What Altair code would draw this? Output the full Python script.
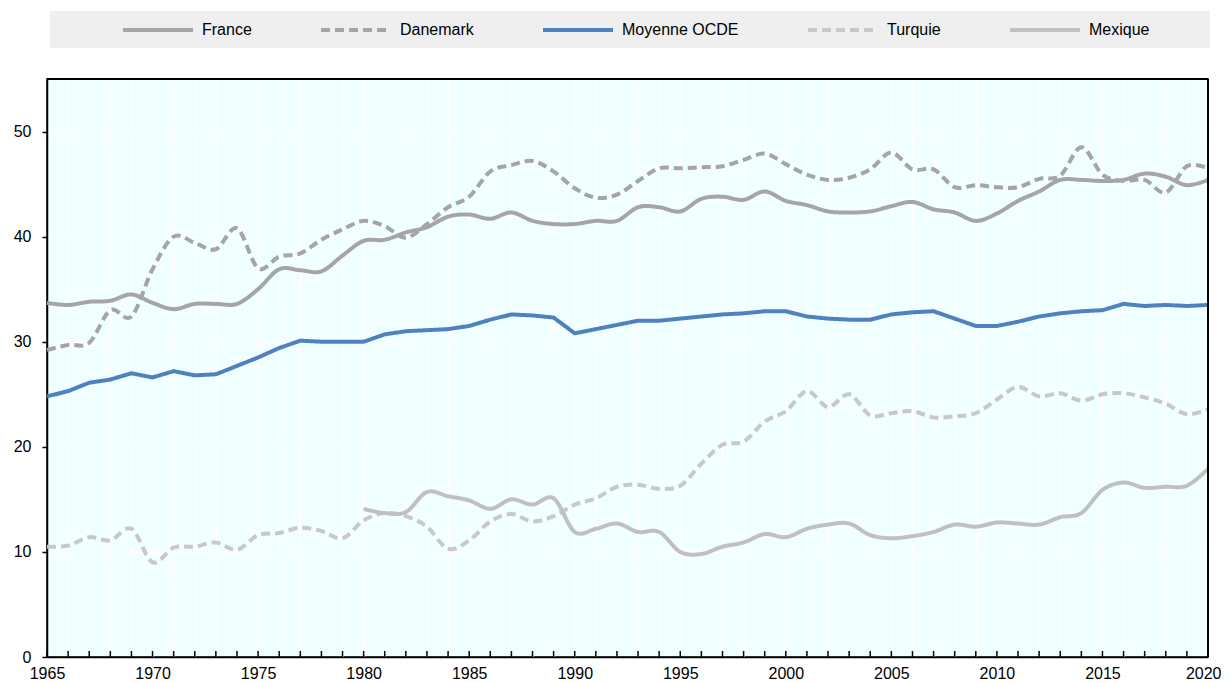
import altair as alt
import pandas as pd

years = list(range(1965, 2021))

france = [33.7, 33.5, 33.8, 33.9, 34.5, 33.7, 33.1, 33.6, 33.6, 33.6,
          35.0, 36.9, 36.8, 36.7, 38.2, 39.6, 39.7, 40.4, 40.9, 41.9,
          42.1, 41.7, 42.3, 41.5, 41.2, 41.2, 41.5, 41.5, 42.8, 42.8,
          42.4, 43.6, 43.8, 43.5, 44.3, 43.4, 43.0, 42.4, 42.3, 42.4,
          42.9, 43.3, 42.6, 42.3, 41.5, 42.2, 43.4, 44.3, 45.4, 45.4,
          45.3, 45.4, 46.0, 45.7, 44.9, 45.4]

danemark = [29.2, 29.7, 29.9, 33.0, 32.4, 36.9, 40.0, 39.4, 38.8, 40.8,
            37.0, 38.1, 38.4, 39.7, 40.7, 41.5, 41.0, 39.9, 41.2, 42.8,
            43.8, 46.2, 46.8, 47.2, 46.2, 44.6, 43.7, 44.0, 45.3, 46.5,
            46.5, 46.6, 46.7, 47.3, 47.9, 46.9, 45.9, 45.4, 45.6, 46.4,
            48.0, 46.4, 46.4, 44.7, 44.9, 44.7, 44.7, 45.5, 45.8, 48.5,
            45.9, 45.3, 45.4, 44.2, 46.7, 46.5]

ocde = [24.8, 25.3, 26.1, 26.4, 27.0, 26.6, 27.2, 26.8, 26.9, 27.7,
        28.5, 29.4, 30.1, 30.0, 30.0, 30.0, 30.7, 31.0, 31.1, 31.2,
        31.5, 32.1, 32.6, 32.5, 32.3, 30.8, 31.2, 31.6, 32.0, 32.0,
        32.2, 32.4, 32.6, 32.7, 32.9, 32.9, 32.4, 32.2, 32.1, 32.1,
        32.6, 32.8, 32.9, 32.2, 31.5, 31.5, 31.9, 32.4, 32.7, 32.9,
        33.0, 33.6, 33.4, 33.5, 33.4, 33.5]

turquie = [10.5, 10.6, 11.4, 11.1, 12.2, 9.0, 10.4, 10.5, 10.9, 10.2,
           11.6, 11.8, 12.3, 12.0, 11.3, 13.0, 13.7, 13.4, 12.4, 10.3,
           11.1, 12.9, 13.6, 12.9, 13.4, 14.5, 15.1, 16.2, 16.4, 16.0,
           16.3, 18.4, 20.2, 20.5, 22.4, 23.4, 25.3, 23.8, 25.0, 23.0,
           23.2, 23.4, 22.8, 22.9, 23.2, 24.5, 25.7, 24.8, 25.1, 24.4,
           25.0, 25.1, 24.7, 24.1, 23.1, 23.6]

mexique = [None] * 15 + [
           14.1, 13.7, 13.8, 15.7, 15.3,
           14.9, 14.1, 15.0, 14.5, 15.1, 11.9, 12.2, 12.7, 11.9, 11.9,
           10.0, 9.8, 10.5, 10.9, 11.7, 11.4, 12.2, 12.6, 12.7, 11.6,
           11.3, 11.5, 11.9, 12.6, 12.4, 12.8, 12.7, 12.6, 13.3, 13.7,
           15.9, 16.6, 16.1, 16.2, 16.3, 17.9]

series_names = ["France", "Danemark", "Moyenne OCDE", "Turquie", "Mexique"]
series_values = [france, danemark, ocde, turquie, mexique]
series_colors = ["#A5A5A5", "#A5A5A5", "#4F81BD", "#C8C8C8", "#C0C0C0"]
series_dashes = [[1, 0], [9, 5], [1, 0], [9, 5], [1, 0]]
y_ticks = [0, 10, 20, 30, 40, 50]
x_label_years = [1965, 1970, 1975, 1980, 1985, 1990, 1995, 2000, 2005, 2010, 2015, 2020]

rows = []
for name, vals in zip(series_names, series_values):
    for yr, v in zip(years, vals):
        rows.append({"annee": yr, "pays": name, "valeur": v})
df = pd.DataFrame(rows)

FONT = "Liberation Sans, Arial, sans-serif"
FS = 16
W, H = 1161, 578

x_scale = alt.Scale(domain=[1965, 2020], nice=False, zero=False)
y_scale = alt.Scale(domain=[0, 55], nice=False)

# grid-only x axis (every year), labels on a second axis
x_grid_axis = alt.Axis(orient="bottom", values=years, labels=False, ticks=False, grid=True,
                       gridColor="white", gridWidth=1, domain=False)
x_label_axis = alt.Axis(orient="bottom", values=x_label_years, format="d", labelOverlap=False,
                        ticks=False, grid=False,
                        domainColor="black", domainWidth=1.5,
                        labelFont=FONT, labelFontSize=FS, labelColor="black",
                        labelPadding=8, labelFlush=False,
                        labelAlign={"condition": {"test": "datum.value == 2020", "value": "right"},
                                    "value": "center"},
                        labelOffset={"condition": {"test": "datum.value == 2020", "value": 13},
                                     "value": 0})
y_axis = alt.Axis(values=y_ticks, grid=True, gridColor="white", gridWidth=1.2,
                  domainColor="black", domainWidth=1.5,
                  tickColor="black", tickSize=5, tickWidth=1.5,
                  labelFont=FONT, labelFontSize=FS, labelColor="black",
                  labelPadding=11)

color_scale = alt.Scale(domain=series_names, range=series_colors)
dash_scale = alt.Scale(domain=series_names, range=series_dashes)

legend = alt.Legend(title=None, orient="none", direction="horizontal",
                    legendX=74, legendY=-86, padding=0,
                    symbolType="stroke", symbolSize=4900, symbolStrokeWidth=4,
                    labelFont=FONT, labelFontSize=FS, labelColor="black",
                    labelOffset=7, columnPadding=61, labelLimit=300)

one = pd.DataFrame({"k": [0]})

legend_box = alt.Chart(one).mark_rect(color="#EFEFEF").encode(
    x=alt.value(3), x2=alt.value(1163), y=alt.value(-68), y2=alt.value(-31)
)

grid_layer = alt.Chart(pd.DataFrame({"annee": years})).mark_rule(opacity=0).encode(
    x=alt.X("annee:Q", scale=x_scale, title=None, axis=x_grid_axis),
)

label_layer = alt.Chart(pd.DataFrame({"annee": x_label_years})).mark_rule(opacity=0).encode(
    x=alt.X("annee:Q", scale=x_scale, title=None, axis=x_label_axis),
)

gray_lines = alt.Chart(df).transform_filter(
    alt.datum.pays != "Moyenne OCDE"
).mark_line(interpolate="cardinal", strokeWidth=4).encode(
    x=alt.X("annee:Q", scale=x_scale, axis=None),
    y=alt.Y("valeur:Q", scale=y_scale, title=None, axis=y_axis),
    color=alt.Color("pays:N", scale=color_scale, legend=legend, sort=series_names),
    strokeDash=alt.StrokeDash("pays:N", scale=dash_scale, legend=legend, sort=series_names),
)

oecd_line = alt.Chart(df).transform_filter(
    alt.datum.pays == "Moyenne OCDE"
).mark_line(strokeWidth=4).encode(
    x=alt.X("annee:Q", scale=x_scale, axis=None),
    y=alt.Y("valeur:Q", scale=y_scale, title=None),
    color=alt.Color("pays:N", scale=color_scale, legend=legend, sort=series_names),
    strokeDash=alt.StrokeDash("pays:N", scale=dash_scale, legend=legend, sort=series_names),
)

ticks = alt.Chart(pd.DataFrame({"annee": years})).mark_rule(color="black", strokeWidth=1.5).encode(
    x=alt.X("annee:Q", scale=x_scale, axis=None),
    y=alt.value(H - 6), y2=alt.value(H),
)

frame = alt.Chart(one).mark_rule(color="black", strokeWidth=2).encode(
    x=alt.value(W), y=alt.value(0), y2=alt.value(H)
)
frame_top = alt.Chart(one).mark_rule(color="black", strokeWidth=2).encode(
    x=alt.value(0), x2=alt.value(W), y=alt.value(0)
)

chart = alt.layer(grid_layer, label_layer, legend_box, gray_lines, oecd_line,
                  ticks, frame, frame_top).resolve_axis(x="independent").properties(
    width=W, height=H,
    background="white",
    autosize=alt.AutoSizeParams(type="none"),
    padding={"left": 39, "top": 71, "right": 14, "bottom": 24},
).configure_view(
    fill="#F0FFFF", stroke="black", strokeWidth=1.5
)

chart.save("out.html", embed_options={"renderer": "svg", "actions": False})
